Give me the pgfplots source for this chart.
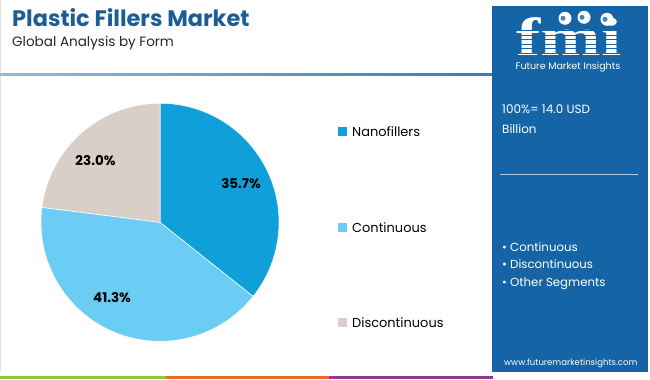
\documentclass[border=0pt]{standalone}
\usepackage{pgfplots}
\pgfplotsset{compat=1.18}
\usepackage{pgfplotstable}
\usepackage{fontspec}
\setmainfont{Poppins}
\newfontfamily\fmifont{Liberation Serif}
\definecolor{nano}{HTML}{0FA0DA}
\definecolor{cont}{HTML}{6CCDF4}
\definecolor{disc}{HTML}{D9CFC8}
\definecolor{titleblue}{HTML}{1B5E95}
\definecolor{panel}{HTML}{1565A6}
\definecolor{sgreen}{HTML}{8DC63F}
\definecolor{sorange}{HTML}{E9662C}
\definecolor{spurple}{HTML}{8E3C8F}
\pgfplotstableread{
label value
Nanofillers 35.7
Continuous 41.3
Discontinuous 23.0
}\piedata
\pgfplotstablegetelem{0}{value}\of\piedata \let\va\pgfplotsretval
\pgfplotstablegetelem{1}{value}\of\piedata \let\vb\pgfplotsretval
\pgfplotstablegetelem{2}{value}\of\piedata \let\vc\pgfplotsretval
\pgfmathsetmacro\aA{90}
\pgfmathsetmacro\aB{90-3.6*\va}
\pgfmathsetmacro\aC{\aB-3.6*\vb}
\pgfmathsetmacro\aD{\aC-3.6*\vc}
\begin{document}
\begin{tikzpicture}[x=1bp,y=1bp]
\path[fill=white] (0,0) rectangle (650,379);
% bottom stripe
\fill[sgreen] (0,0) rectangle (166,3.5);
\fill[sorange] (166,0) rectangle (329,3.5);
\fill[spurple] (329,0) rectangle (493,3.5);
% left faint border
\draw[black!12, line width=0.6bp] (0.5,8) -- (0.5,379);
% title
\node[anchor=base west, inner sep=0, text=titleblue, font=\fontsize{22.5}{26}\selectfont\bfseries] at (12,353.3) {Plastic Fillers Market};
\node[anchor=base west, inner sep=0, text=black!85, font=\fontsize{13.6}{16}\selectfont] at (12,333.3) {Global Analysis by Form};
\shade[left color=panel!45, right color=panel!85] (0,304.2) rectangle (492,305.8);
% panel
\fill[panel] (492,7) rectangle (648,373);
% logo
\node[anchor=base, inner sep=0, text depth=0pt, text=white, font=\fmifont\fontsize{54}{60}\selectfont\bfseries, xscale=1.35] at (569,324) {fmi};
\foreach \yy in {326,330.5,...,352} {\draw[panel, line width=1.0bp] (512,\yy) -- (628,\yy);}
\foreach \xx/\yy in {565/361,584/362,607/360} {\fill[white] (\xx,\yy) circle (6.5); \fill[panel!80] (\xx-2,\yy) circle (2.5);}
\node[anchor=base, inner sep=0, text=white, font=\fontsize{9.6}{11}\selectfont] at (568,310) {Future Market Insights};
\node[anchor=base west, inner sep=0, text=white, font=\fontsize{12}{14}\selectfont] at (502,265.7) {100\%= 14.0 USD};
\node[anchor=base west, inner sep=0, text=white, font=\fontsize{12}{14}\selectfont] at (502,245.7) {Billion};
\draw[white!65!panel, line width=1.2bp] (500,205) -- (638,205);
\node[anchor=base west, inner sep=0, text=white, font=\fontsize{11.8}{13}\selectfont] at (502,128.3) {• Continuous};
\node[anchor=base west, inner sep=0, text=white, font=\fontsize{11.8}{13}\selectfont] at (502,110.7) {• Discontinuous};
\node[anchor=base west, inner sep=0, text=white, font=\fontsize{11.8}{13}\selectfont] at (502,93) {• Other Segments};
\node[anchor=base west, inner sep=0, text=white, font=\fontsize{8.6}{10}\selectfont] at (504,13.4) {www.futuremarketinsights.com};
% legend
\fill[nano] (338,243) rectangle (347,252);
\node[anchor=west, inner sep=0, font=\fontsize{13}{15}\selectfont] at (352,247.5) {Nanofillers};
\fill[cont] (338,147) rectangle (347,156);
\node[anchor=west, inner sep=0, font=\fontsize{13}{15}\selectfont] at (352,151.5) {Continuous};
\fill[disc] (338,52) rectangle (347,61);
\node[anchor=west, inner sep=0, font=\fontsize{13}{15}\selectfont] at (352,56.5) {Discontinuous};
% pie
\begin{axis}[hide axis, scale only axis, width=238bp, height=238bp,
  xmin=-1, xmax=1, ymin=-1, ymax=1, at={(160bp,157bp)}, anchor=center, clip=false]
\fill[nano, draw=white, line width=0.5bp] (axis cs:0,0) -- ++(\aA:119bp) arc[start angle=\aA, end angle=\aB, radius=119bp] -- cycle;
\fill[cont, draw=white, line width=0.5bp] (axis cs:0,0) -- ++(\aB:119bp) arc[start angle=\aB, end angle=\aC, radius=119bp] -- cycle;
\fill[disc, draw=white, line width=0.5bp] (axis cs:0,0) -- ++(\aC:119bp) arc[start angle=\aC, end angle=\aD, radius=119bp] -- cycle;
\node[font=\fontsize{13.5}{15}\selectfont\bfseries] at (axis cs:0.681,0.328) {\va\%};
\node[font=\fontsize{13.5}{15}\selectfont\bfseries] at (axis cs:-0.403,-0.630) {\vb\%};
\node[font=\fontsize{13.5}{15}\selectfont\bfseries] at (axis cs:-0.542,0.521) {\vc\%};
\end{axis}
\end{tikzpicture}
\end{document}
